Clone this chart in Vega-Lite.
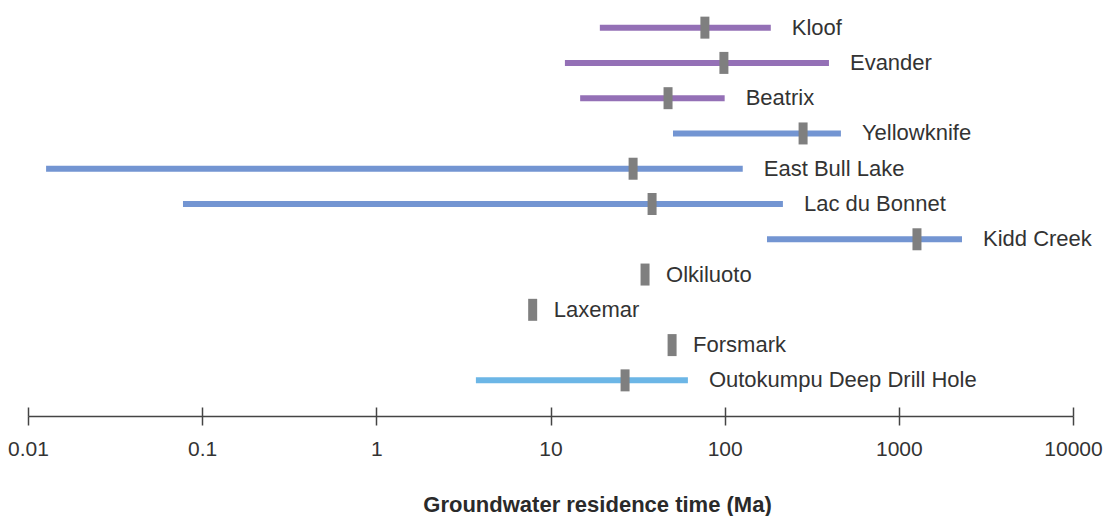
{
  "$schema": "https://vega.github.io/schema/vega-lite/v6.json",
  "width": 1045,
  "height": 388,
  "autosize": {"type": "none"},
  "padding": {"left": 28, "top": 10, "right": 39, "bottom": 118},
  "background": "white",
  "config": {"view": {"stroke": null}, "font": "Liberation Sans"},
  "data": {
    "values": [
      {"site": "Kloof", "group": "purple", "lo": 19.2, "mid": 77, "hi": 184},
      {"site": "Evander", "group": "purple", "lo": 12.1, "mid": 99, "hi": 397},
      {"site": "Beatrix", "group": "purple", "lo": 14.8, "mid": 47.3, "hi": 100},
      {"site": "Yellowknife", "group": "blue", "lo": 50.5, "mid": 282, "hi": 465},
      {"site": "East Bull Lake", "group": "blue", "lo": 0.0127, "mid": 29.8, "hi": 127},
      {"site": "Lac du Bonnet", "group": "blue", "lo": 0.0776, "mid": 38.3, "hi": 216},
      {"site": "Kidd Creek", "group": "blue", "lo": 175, "mid": 1271, "hi": 2305},
      {"site": "Olkiluoto", "group": "none", "lo": null, "mid": 34.9, "hi": null},
      {"site": "Laxemar", "group": "none", "lo": null, "mid": 7.9, "hi": null},
      {"site": "Forsmark", "group": "none", "lo": null, "mid": 49.9, "hi": null},
      {"site": "Outokumpu Deep Drill Hole", "group": "lightblue", "lo": 3.73, "mid": 26.8, "hi": 61.5}
    ]
  },
  "encoding": {
    "y": {
      "field": "site",
      "type": "nominal",
      "sort": ["Kloof", "Evander", "Beatrix", "Yellowknife", "East Bull Lake", "Lac du Bonnet", "Kidd Creek", "Olkiluoto", "Laxemar", "Forsmark", "Outokumpu Deep Drill Hole"],
      "axis": null,
      "scale": {"paddingInner": 0, "paddingOuter": 0}
    }
  },
  "resolve": {"axis": {"x": "independent"}},
  "layer": [
    {
      "transform": [{"filter": "isValid(datum.lo)"}],
      "mark": {"type": "rule", "strokeWidth": 6, "strokeCap": "butt"},
      "encoding": {
        "x": {
          "field": "lo",
          "type": "quantitative",
          "scale": {"type": "log", "domain": [0.01, 10000], "nice": false},
          "axis": {
            "orient": "bottom",
            "offset": 18,
            "values": [0.01, 0.1, 1, 10, 100, 1000, 10000],
            "labelExpr": "datum.value >= 1 ? format(datum.value, 'd') : format(datum.value, '~g')",
            "grid": false,
            "domainColor": "#444",
            "domainWidth": 1.5,
            "tickColor": "#444",
            "tickWidth": 1.5,
            "tickSize": 9,
            "labelFontSize": 21,
            "labelColor": "#333",
            "labelPadding": 13,
            "labelFlush": false,
            "labelOverlap": false,
            "title": "Groundwater residence time (Ma)",
            "titleFontSize": 22,
            "titleFontWeight": "bold",
            "titleColor": "#2a2a2a",
            "titlePadding": 35,
            "titleX": 569,
            "titleAlign": "center",
            "titleAnchor": null
          }
        },
        "x2": {"field": "hi"},
        "color": {
          "field": "group",
          "type": "nominal",
          "scale": {"domain": ["purple", "blue", "lightblue"], "range": ["#9470b6", "#7395d2", "#6cb6e6"]},
          "legend": null
        }
      }
    },
    {
      "mark": {"type": "tick", "orient": "vertical", "thickness": 9, "size": 22, "color": "#7f7f7f", "opacity": 1},
      "encoding": {
        "x": {
          "field": "mid",
          "type": "quantitative",
          "axis": {
            "orient": "bottom",
            "offset": 9,
            "values": [0.01, 0.1, 1, 10, 100, 1000, 10000],
            "domain": false,
            "labels": false,
            "grid": false,
            "tickColor": "#444",
            "tickWidth": 1.5,
            "tickSize": 9,
            "title": null
          }
        }
      }
    },
    {
      "transform": [{"calculate": "isValid(datum.hi) ? datum.hi : datum.mid", "as": "labelx"}],
      "mark": {"type": "text", "align": "left", "baseline": "middle", "dx": 21, "fontSize": 22, "color": "#333"},
      "encoding": {
        "x": {"field": "labelx", "type": "quantitative", "axis": null},
        "text": {"field": "site"}
      }
    }
  ]
}
